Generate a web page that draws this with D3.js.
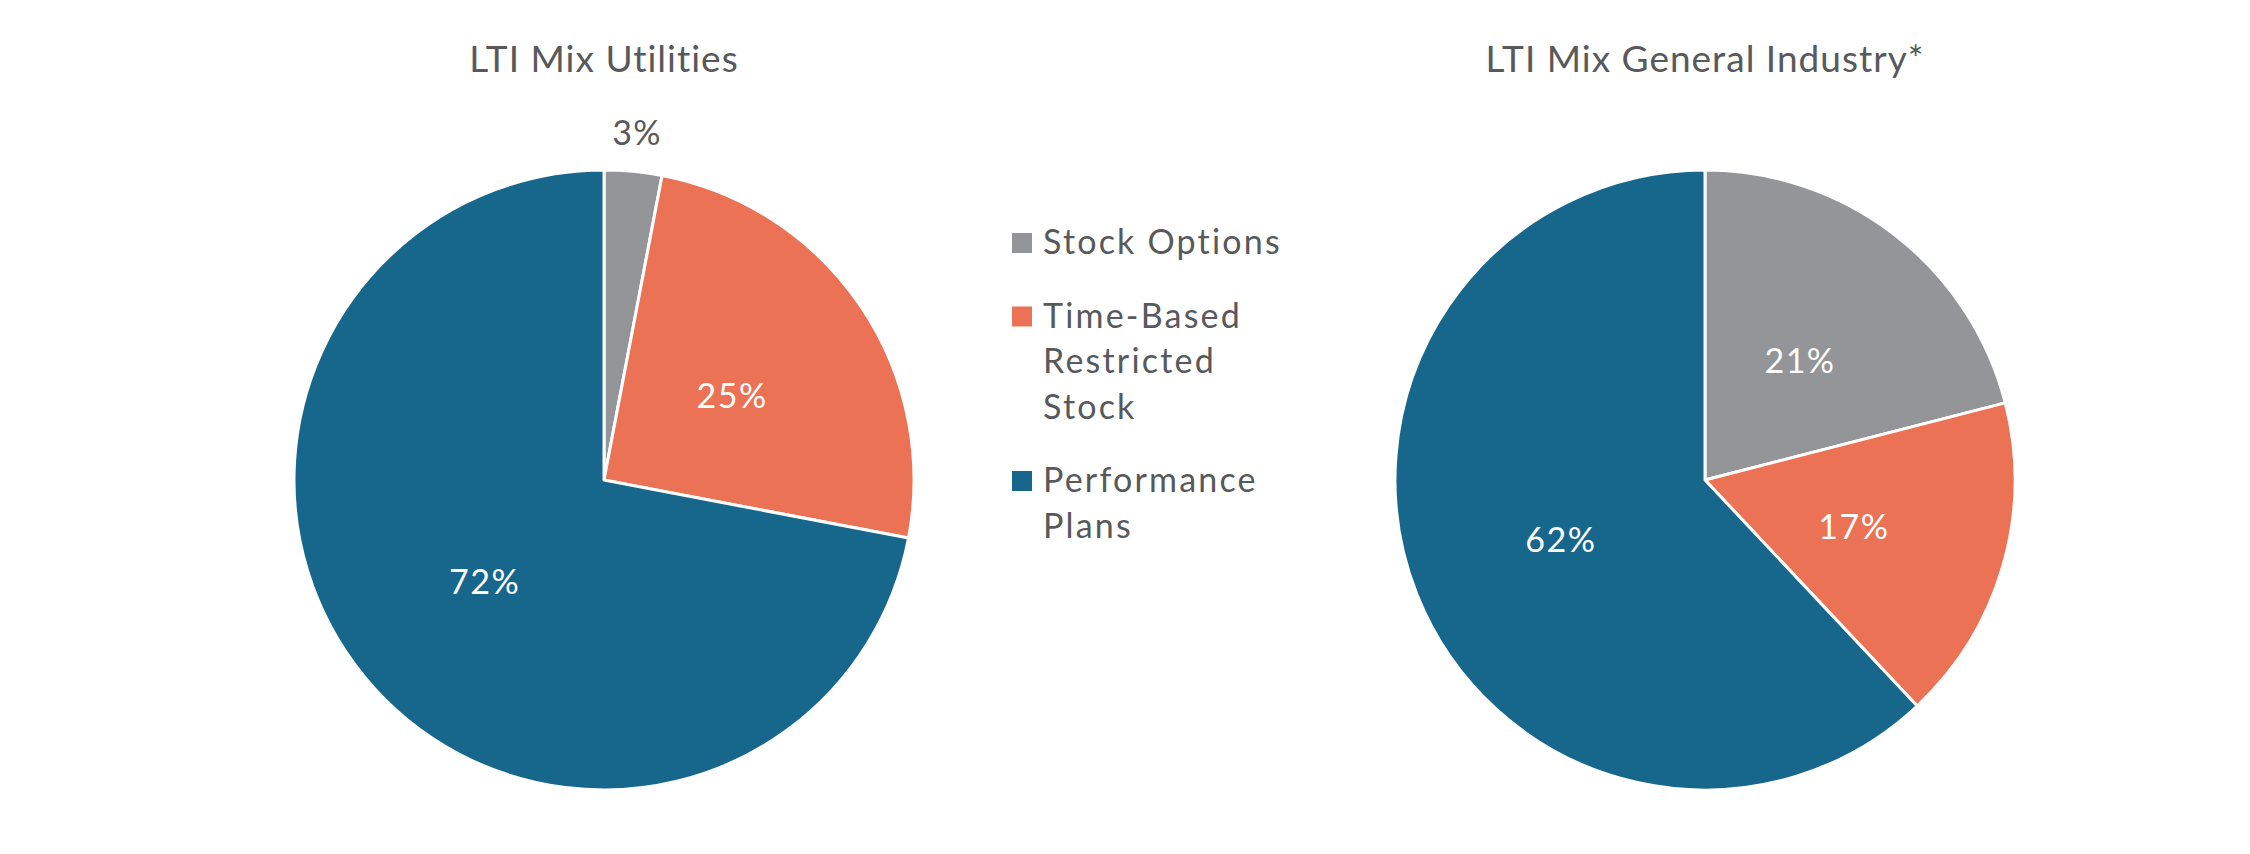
<!DOCTYPE html>
<html>
<head>
<meta charset="utf-8">
<script src="https://cdn.jsdelivr.net/npm/d3@7"></script>
<style>
  body { margin: 0; background: #fff; }
  text { font-family: Lato, "Open Sans", sans-serif; }
</style>
</head>
<body>
<div id="chart"></div>
<script>
// categories and values
var categories = ['Stock Options', 'Time-Based Restricted Stock', 'Performance Plans']
var legendLines = [['Stock Options'], ['Time-Based', 'Restricted', 'Stock'], ['Performance', 'Plans']]
var titles = ['LTI Mix Utilities', 'LTI Mix General Industry*']
var utilities = [3, 25, 72]
var generalIndustry = [21, 17, 62]
var colors = ['#939598', '#EB7254', '#17678D']

var width = 2250
var height = 854
var radius = 310
var textColor = '#58595B'

var svg = d3.select('#chart').append('svg')
  .attr('width', width)
  .attr('height', height)

var color = d3.scaleOrdinal().domain(categories).range(colors)

var pie = d3.pie().sort(null).value(function (d) { return d.value })
var arc = d3.arc().innerRadius(0).outerRadius(radius)
var labelArc = d3.arc().innerRadius(radius * 0.5).outerRadius(radius * 0.5)
var outsideArc = d3.arc().innerRadius(radius + 42).outerRadius(radius + 42)

function drawPie (cx, title, values) {
  var data = values.map(function (v, i) { return { name: categories[i], value: v } })
  var g = svg.append('g').attr('transform', 'translate(' + cx + ',480)')

  g.append('text')
    .attr('x', 0)
    .attr('y', 72 - 480)
    .attr('text-anchor', 'middle')
    .attr('fill', textColor)
    .style('font-size', '37px')
    .style('letter-spacing', '1px')
    .text(title)

  var slices = g.selectAll('.slice')
    .data(pie(data))
    .enter().append('g')
    .attr('class', 'slice')

  slices.append('path')
    .attr('d', arc)
    .attr('fill', function (d) { return color(d.data.name) })
    .attr('stroke', '#fff')
    .attr('stroke-width', 3)
    .attr('stroke-linejoin', 'round')

  // small slices get their label outside the pie
  slices.append('text')
    .attr('transform', function (d) {
      var small = d.data.value < 5
      var c = small ? outsideArc.centroid(d) : labelArc.centroid(d)
      return 'translate(' + c + ')'
    })
    .attr('dy', '0.45em')
    .attr('text-anchor', 'middle')
    .attr('fill', function (d) { return d.data.value < 5 ? textColor : '#fff' })
    .style('font-size', '34px')
    .style('letter-spacing', '1.5px')
    .text(function (d) { return d.data.value + '%' })
}

drawPie(604, titles[0], utilities)
drawPie(1705, titles[1], generalIndustry)

// legend
var legend = svg.append('g').attr('transform', 'translate(1012,0)')
var lineHeight = 45.5
var itemGap = 28
var y = 254
legendLines.forEach(function (lines, i) {
  var item = legend.append('g')
  item.append('rect')
    .attr('x', 0)
    .attr('y', y - 21)
    .attr('width', 20)
    .attr('height', 20)
    .attr('fill', color(categories[i]))
  var t = item.append('text')
    .attr('x', 31)
    .attr('y', y)
    .attr('fill', textColor)
    .style('font-size', '34px')
    .style('letter-spacing', '2.2px')
  lines.forEach(function (l, j) {
    t.append('tspan')
      .attr('x', 31)
      .attr('y', y + j * lineHeight)
      .text(l)
  })
  y += (lines.length - 1) * lineHeight + lineHeight + itemGap
})
</script>
</body>
</html>
